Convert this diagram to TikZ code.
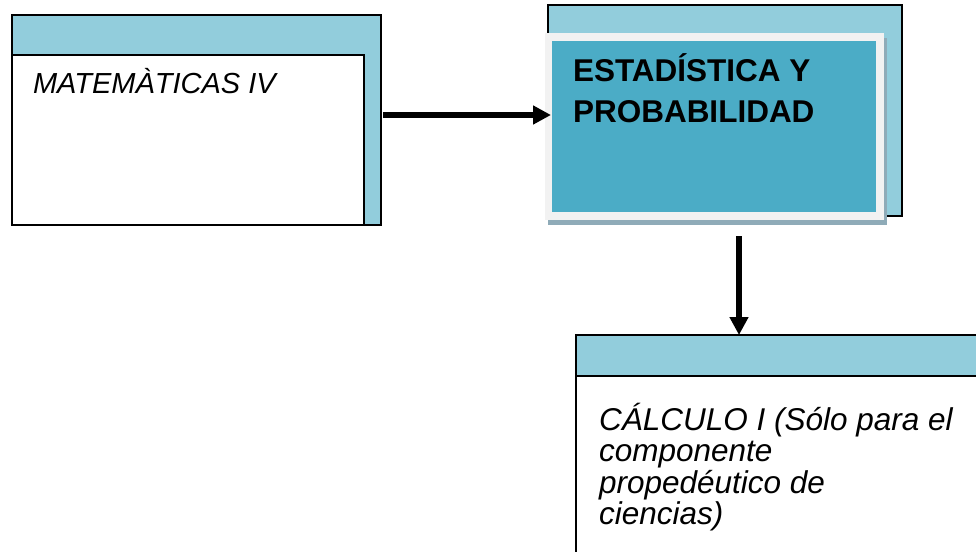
\documentclass[tikz,border=0pt]{standalone}
\usepackage{fontspec}
\setmainfont{Liberation Sans}
\usetikzlibrary{arrows.meta}
\definecolor{lightaqua}{HTML}{92CDDC}
\definecolor{aqua}{HTML}{4BACC6}
\definecolor{framegray}{HTML}{F2F2F2}
\definecolor{shadowblue}{HTML}{8FABB8}
\tikzset{
  boxr/.style={rectangle, inner sep=0pt, outer sep=0pt},
  backbox/.style={boxr, fill=lightaqua, draw=black, line width=2pt},
  whitebox/.style={boxr, fill=white, draw=black, line width=2pt},
  conn/.style={line width=6pt, -{Triangle[length=18pt,width=18pt]}},
  lbl/.style={inner sep=0pt, outer sep=0pt, anchor=base west, align=left}
}
\begin{document}
\begin{tikzpicture}[x=1pt,y=-1pt]
\useasboundingbox (0,0) rectangle (976,551);
\clip (0,0) rectangle (976,551);
% box 1
\node[backbox, minimum width=369pt, minimum height=210pt] (mb) at (196.5,120) {};
\node[whitebox, minimum width=352pt, minimum height=170pt] (mw) at (188,140) {};
\node[lbl, font=\itshape\fontsize{29}{34}\selectfont] (mt) at (33,93) {MATEMÀTICAS IV};
% box 2
\node[backbox, minimum width=354pt, minimum height=211pt] (eb) at (725,110.5) {};
\node[boxr, fill=shadowblue, minimum width=339pt, minimum height=187pt] (es) at (717.5,131.5) {};
\node[boxr, fill=framegray, minimum width=339pt, minimum height=187pt] (ef) at (714.5,126.5) {};
\node[boxr, fill=aqua, minimum width=324pt, minimum height=171pt] (ei) at (714,126.5) {};
\node[lbl, font=\bfseries\fontsize{31.5}{41}\selectfont] (et) at (573,122) {ESTADÍSTICA Y\\PROBABILIDAD};
% box 3
\node[whitebox, minimum width=420pt, minimum height=300pt] (cb) at (786,485) {};
\node[boxr, fill=lightaqua, draw=black, line width=2pt, minimum width=420pt, minimum height=41pt] (ch) at (786,355.5) {};
\node[lbl, font=\itshape\fontsize{31.5}{31.5}\selectfont] (ct) at (599,524.5) {CÁLCULO I (Sólo para el\\componente\\propedéutico de\\ciencias)};
% connectors
\coordinate (a1) at (383,115);
\coordinate (a2) at (739,236);
\draw[conn] (a1) -- ([xshift=6pt]ef.west |- a1);
\draw[conn] (a2) -- (a2 |- ch.north);
\end{tikzpicture}
\end{document}
